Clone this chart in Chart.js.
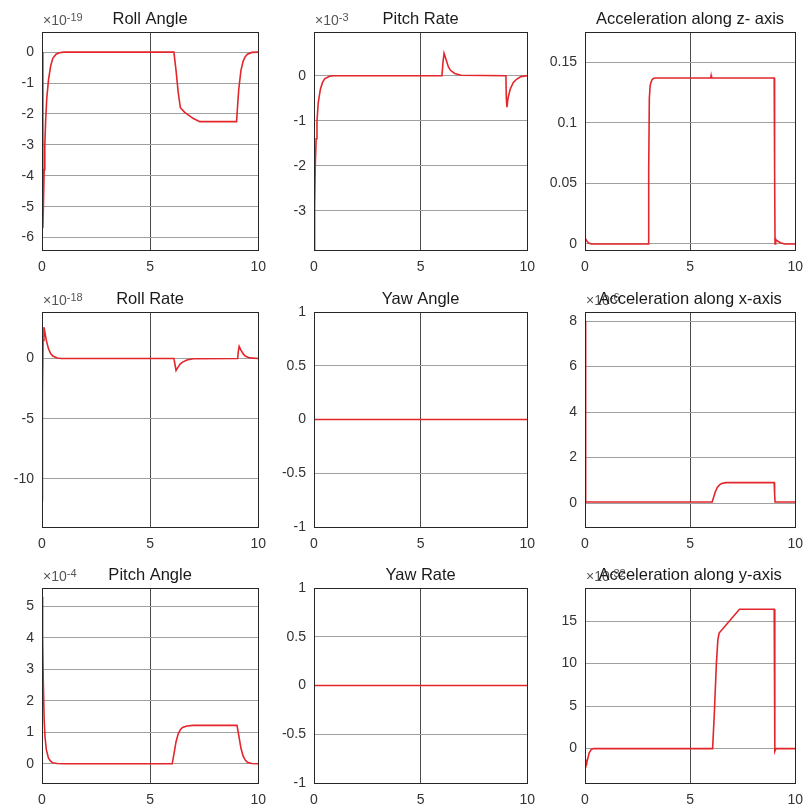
<!DOCTYPE html>
<html>
<head>
<meta charset="utf-8">
<script src="https://cdn.jsdelivr.net/npm/chart.js@4/dist/chart.umd.min.js"></script>
<style>
  body { margin: 0; background: #fff; width: 810px; height: 809px; position: relative; overflow: hidden; }
  canvas { position: absolute; }
</style>
</head>
<body>
<script>
// time samples (s) and signal values, already scaled by each panel's exponent
const rollAngleT = [0, 0.04, 0.07, 0.1, 0.13, 0.17, 0.22, 0.3, 0.4, 0.5, 0.65, 0.8, 1.0, 6.1, 6.2, 6.3, 6.4, 6.6, 7.0, 7.3, 9.0, 9.05, 9.1, 9.2, 9.3, 9.4, 9.5, 9.7, 10];
const rollAngle  = [0, -5.7, -4.8, -3.8, -3.0, -2.2, -1.5, -0.9, -0.45, -0.2, -0.07, -0.02, 0, 0, -0.6, -1.3, -1.8, -1.95, -2.15, -2.25, -2.25, -1.7, -1.2, -0.6, -0.3, -0.15, -0.07, -0.01, 0];

const pitchRateT = [0, 0.03, 0.06, 0.1, 0.14, 0.2, 0.3, 0.4, 0.5, 0.7, 0.9, 6.0, 6.05, 6.1, 6.2, 6.3, 6.4, 6.6, 6.9, 9.0, 9.02, 9.05, 9.1, 9.2, 9.35, 9.5, 9.7, 10];
const pitchRate  = [-3.85, -2.9, -2.0, -1.4, -1.0, -0.6, -0.3, -0.15, -0.07, -0.02, 0, 0, 0.3, 0.5, 0.35, 0.2, 0.12, 0.05, 0.01, 0, -0.5, -0.7, -0.5, -0.3, -0.15, -0.08, -0.02, 0];

const accelZT = [0, 0.1, 0.2, 0.3, 3.0, 3.03, 3.06, 3.1, 3.15, 3.2, 3.3, 5.98, 6.0, 6.02, 9.0, 9.02, 9.04, 9.07, 9.1, 9.2, 9.3, 9.5, 10];
const accelZ  = [0.005, 0.002, 0.0005, 0, 0, 0.06, 0.12, 0.131, 0.134, 0.136, 0.137, 0.137, 0.139, 0.137, 0.137, 0.06, 0, 0.004, 0.003, 0.002, 0.001, 0, 0];

const rollRateT = [0, 0.02, 0.05, 0.09, 0.13, 0.2, 0.3, 0.4, 0.5, 0.7, 0.9, 6.1, 6.15, 6.2, 6.3, 6.4, 6.5, 6.7, 7.0, 9.05, 9.08, 9.12, 9.2, 9.3, 9.4, 9.6, 10];
const rollRate  = [-11.8, -3, 1.5, 2.6, 2.2, 1.5, 0.8, 0.4, 0.2, 0.04, 0, 0, -0.5, -1.0, -0.7, -0.45, -0.3, -0.12, -0.02, 0, 0.6, 1.0, 0.7, 0.4, 0.2, 0.05, 0];

const yawAngleT = [0, 10];
const yawAngle  = [0, 0];

const accelXT = [0, 0.02, 0.04, 6.05, 6.1, 6.2, 6.3, 6.4, 6.5, 6.7, 7.0, 9.0, 9.02, 9.04, 10];
const accelX  = [8.0, 0.5, 0.05, 0.05, 0.2, 0.5, 0.7, 0.8, 0.86, 0.9, 0.9, 0.9, 0.4, 0.05, 0.05];

const pitchAngleT = [0, 0.03, 0.06, 0.1, 0.14, 0.2, 0.3, 0.4, 0.5, 0.7, 1.0, 6.02, 6.1, 6.2, 6.3, 6.4, 6.5, 6.7, 7.0, 9.02, 9.1, 9.2, 9.3, 9.4, 9.5, 9.7, 10];
const pitchAngle  = [5.3, 4.0, 2.6, 1.4, 0.85, 0.45, 0.18, 0.08, 0.03, 0.01, 0, 0, 0.3, 0.7, 0.95, 1.08, 1.15, 1.2, 1.22, 1.22, 0.9, 0.5, 0.25, 0.12, 0.05, 0.01, 0];

const yawRateT = [0, 10];
const yawRate  = [0, 0];

const accelYT = [0, 0.05, 0.08, 0.12, 0.2, 0.3, 0.4, 6.07, 6.15, 6.25, 6.32, 6.38, 7.35, 9.0, 9.03, 9.08, 10];
const accelY  = [-1.0, -1.6, -1.7, -1.3, -0.5, -0.1, 0, 0, 4, 10, 12.8, 13.6, 16.4, 16.4, -0.3, 0, 0];

const xTicks = [0, 5, 10];

const panels = [
  { title: 'Roll Angle', exp: '-19', t: rollAngleT, v: rollAngle, min: -6.4, max: 0.65, ticks: [-6, -5, -4, -3, -2, -1, 0], box: [42, 32, 219, 218] },
  { title: 'Pitch Rate', exp: '-3', t: pitchRateT, v: pitchRate, min: -3.87, max: 0.97, ticks: [-3, -2, -1, 0], box: [314, 32, 216, 218] },
  { title: 'Acceleration along z- axis', exp: null, t: accelZT, v: accelZ, min: -0.005, max: 0.175, ticks: [0, 0.05, 0.1, 0.15], box: [585, 32, 213, 218] },
  { title: 'Roll Rate', exp: '-18', t: rollRateT, v: rollRate, min: -14, max: 3.86, ticks: [-10, -5, 0], box: [42, 312, 219, 215] },
  { title: 'Yaw Angle', exp: null, t: yawAngleT, v: yawAngle, min: -1, max: 1, ticks: [-1, -0.5, 0, 0.5, 1], box: [314, 312, 216, 215] },
  { title: 'Acceleration along x-axis', exp: '-6', t: accelXT, v: accelX, min: -1.05, max: 8.4, ticks: [0, 2, 4, 6, 8], box: [585, 312, 213, 215] },
  { title: 'Pitch Angle', exp: '-4', t: pitchAngleT, v: pitchAngle, min: -0.61, max: 5.58, ticks: [0, 1, 2, 3, 4, 5], box: [42, 588, 219, 195] },
  { title: 'Yaw Rate', exp: null, t: yawRateT, v: yawRate, min: -1, max: 1, ticks: [-1, -0.5, 0, 0.5, 1], box: [314, 588, 216, 195] },
  { title: 'Acceleration along y-axis', exp: '-32', t: accelYT, v: accelY, min: -4.05, max: 18.9, ticks: [0, 5, 10, 15], box: [585, 588, 213, 195] }
];

const FONT = '"Liberation Sans", Arial, sans-serif';
const PAD_L = 45, PAD_T = 34, PAD_R = 14, PAD_B = 28;

// box outline, exponent label and title
const frame = {
  id: 'frame',
  afterDraw(chart, args, opts) {
    const { ctx, chartArea: a } = chart;
    ctx.save();
    ctx.strokeStyle = '#262626';
    ctx.lineWidth = 1;
    ctx.strokeRect(Math.round(a.left) + 0.5, Math.round(a.top) + 0.5, Math.round(a.right - a.left), Math.round(a.bottom - a.top));
    if (opts.exp) {
      ctx.fillStyle = '#555';
      ctx.textAlign = 'left';
      ctx.textBaseline = 'alphabetic';
      ctx.font = '14px ' + FONT;
      ctx.fillText('\u00d710', a.left + 1, a.top - 7);
      const w = ctx.measureText('\u00d710').width;
      ctx.font = '11px ' + FONT;
      ctx.fillText(opts.exp, a.left + 1 + w, a.top - 11);
    }
    ctx.fillStyle = '#1a1a1a';
    ctx.textAlign = 'center';
    ctx.font = '16.5px ' + FONT;
    ctx.fillText(opts.title, (a.left + a.right) / 2, a.top - 8.5);
    ctx.restore();
  }
};

panels.forEach(p => {
  const [l, t, w, h] = p.box;
  const cv = document.createElement('canvas');
  const cw = w + PAD_L + PAD_R, ch = h + PAD_T + PAD_B;
  cv.width = cw; cv.height = ch;
  cv.style.left = (l - PAD_L) + 'px';
  cv.style.top = (t - PAD_T) + 'px';
  cv.style.width = cw + 'px';
  cv.style.height = ch + 'px';
  document.body.appendChild(cv);

  new Chart(cv.getContext('2d'), {
    type: 'line',
    data: {
      datasets: [{
        data: p.t.map((x, i) => ({ x: x, y: p.v[i] })),
        borderColor: '#e3262b',
        borderWidth: 1.6,
        pointRadius: 0,
        tension: 0,
        fill: false
      }]
    },
    options: {
      responsive: false,
      animation: false,
      events: [],
      layout: { padding: { top: PAD_T, right: PAD_R, left: 0, bottom: 0 } },
      plugins: {
        legend: { display: false },
        tooltip: { enabled: false },
        frame: { title: p.title, exp: p.exp }
      },
      scales: {
        x: {
          type: 'linear',
          min: 0,
          max: 10,
          afterBuildTicks: s => { s.ticks = xTicks.map(v => ({ value: v })); },
          afterFit: s => { s.height = PAD_B; },
          border: { display: false },
          grid: { drawTicks: false, color: c => (c.tick && c.tick.value === 5) ? '#4a4a4a' : 'rgba(0,0,0,0)' },
          ticks: { padding: 9, color: '#333', font: { family: FONT, size: 14 }, maxRotation: 0, autoSkip: false, callback: v => String(v) }
        },
        y: {
          type: 'linear',
          min: p.min,
          max: p.max,
          afterBuildTicks: s => { s.ticks = p.ticks.map(v => ({ value: v })); },
          afterFit: s => { s.width = PAD_L; },
          border: { display: false },
          grid: { drawTicks: false, color: '#a0a0a0' },
          ticks: { padding: 8, color: '#333', font: { family: FONT, size: 14 }, autoSkip: false, callback: v => String(v) }
        }
      }
    },
    plugins: [frame]
  });
});
</script>
</body>
</html>
